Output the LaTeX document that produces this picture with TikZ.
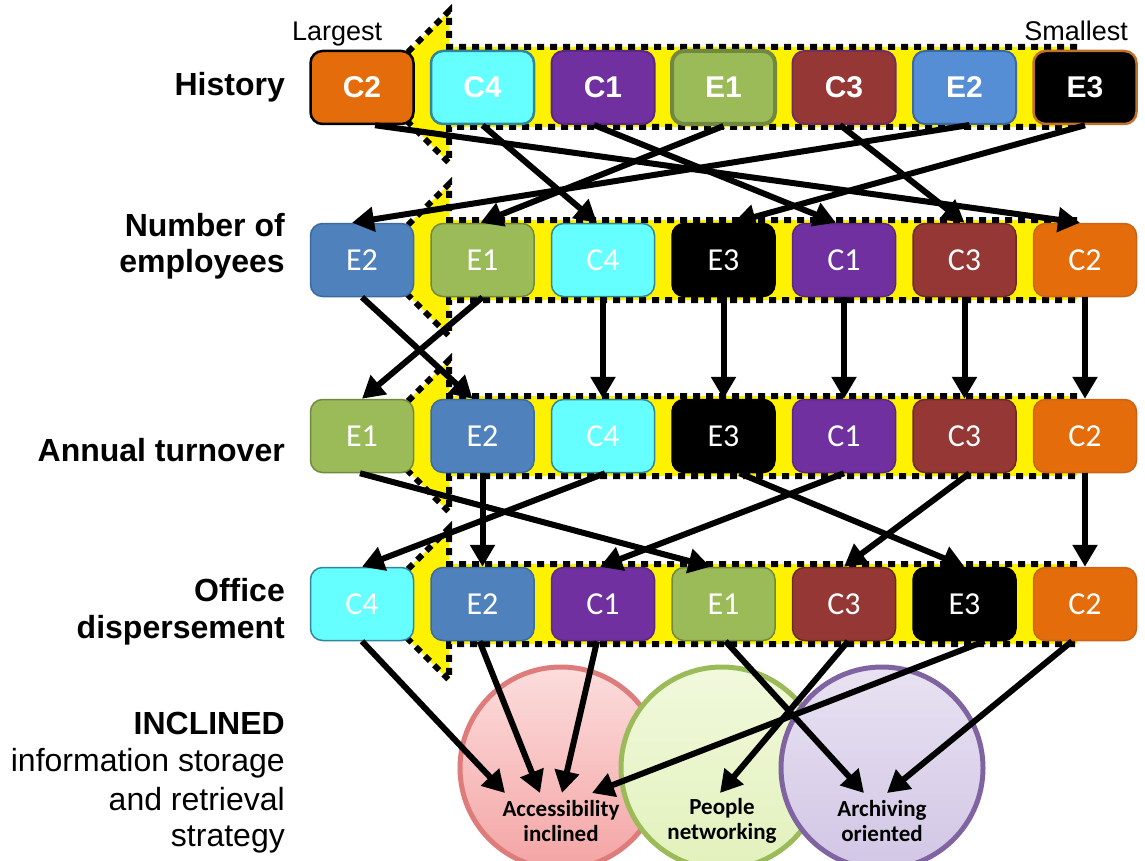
\documentclass[tikz,border=0pt]{standalone}
\usepackage{fontspec}
\setmainfont{Liberation Sans}
\newfontfamily\calib{Carlito}
\usetikzlibrary{arrows.meta}

\definecolor{cOrange}{HTML}{E46C0A}
\definecolor{cCyan}{HTML}{66FFFF}
\definecolor{cPurple}{HTML}{7030A0}
\definecolor{cOlive}{HTML}{9BBB59}
\definecolor{cBrick}{HTML}{953735}
\definecolor{cBlueA}{HTML}{558ED5}
\definecolor{cBlueB}{HTML}{4F81BD}
\definecolor{bOrange}{HTML}{C8651C}
\definecolor{bCyan}{HTML}{31859C}
\definecolor{bPurple}{HTML}{5A2784}
\definecolor{bOlive}{HTML}{71893F}
\definecolor{bBrick}{HTML}{6E2927}
\definecolor{bBlue}{HTML}{3D6A9E}
\definecolor{bE3}{HTML}{C0712E}
\definecolor{redEdge}{HTML}{DE7C7C}
\definecolor{redTop}{HTML}{FCDDDD}
\definecolor{redBot}{HTML}{F4A4A4}
\definecolor{grnTop}{HTML}{F1F9DC}
\definecolor{grnBot}{HTML}{E2F1BC}
\definecolor{vioEdge}{HTML}{8064A2}
\definecolor{vioTop}{HTML}{E8E2F2}
\definecolor{vioBot}{HTML}{D2C6E5}

\begin{document}
\begin{tikzpicture}[x=1pt,y=-1pt,
  band/.style={fill=yellow, draw=black, line width=6pt, dash pattern=on 7pt off 6pt},
  hbox/.style={rounded corners=12pt, minimum width=103pt, minimum height=73pt,
    inner sep=0pt, text=white, line width=2.5pt,
    font=\fontsize{30}{30}\selectfont\bfseries},
  rbox/.style={rounded corners=12pt, minimum width=103pt, minimum height=73pt,
    inner sep=0pt, text=white, line width=1.5pt,
    font=\calib\fontsize{32}{32}\selectfont},
  link/.style={line width=6pt, -{Triangle[length=22pt,width=24pt]}},
  lab/.style={anchor=base east, inner sep=0pt, font=\fontsize{32}{37}\selectfont\bfseries},
  labn/.style={anchor=base east, inner sep=0pt, font=\fontsize{32}{37}\selectfont},
  ring/.style={circle, minimum size=202pt, line width=5pt, inner sep=0pt},
  ctext/.style={align=center, inner sep=0pt, font=\calib\bfseries\fontsize{23}{25}\selectfont}
]
\useasboundingbox (0,0) rectangle (1145,861);

% yellow left-pointing block arrows behind each row
\foreach \yc in {87,260,436,604}{
  \draw[band] (1077,\yc-40) -- (449,\yc-40) -- (449,\yc-76) -- (373,\yc)
    -- (449,\yc+76) -- (449,\yc+40) -- (1077,\yc+40) -- cycle;
}

% strategy circles
\node[ring, draw=redEdge, top color=redTop, bottom color=redBot] (accC) at (561,768) {};
\node[ring, draw=cOlive, top color=grnTop, bottom color=grnBot] (pplC) at (722,768) {};
\node[ring, draw=vioEdge, top color=vioTop, bottom color=vioBot] (arcC) at (882,768) {};

% scale ends
\node[anchor=base west, inner sep=0pt, font=\fontsize{27}{30}\selectfont] (largest) at (292,41) {Largest};
\node[anchor=base east, inner sep=0pt, font=\fontsize{27}{30}\selectfont] (smallest) at (1128,41) {Smallest};

% row labels
\node[lab] (l1) at (285,96) {History};
\node[lab] (l2a) at (285,236) {Number of};
\node[lab] (l2b) at (285,272) {employees};
\node[lab] (l3) at (285,461) {Annual turnover};
\node[lab] (l4a) at (285,601) {Office};
\node[lab] (l4b) at (285,638) {dispersement};
\node[lab] (l5a) at (285,734) {INCLINED};
\node[labn] (l5b) at (285,771) {information storage};
\node[labn] (l5c) at (285,810) {and retrieval};
\node[labn] (l5d) at (285,846) {strategy};

% row 1: history
\node[hbox, fill=cOrange, draw=black] (hC2) at (362,87.5) {C2};
\node[hbox, fill=cCyan, draw=bCyan] (hC4) at (482.5,87.5) {C4};
\node[hbox, fill=cPurple, draw=bPurple, line width=2pt] (hC1) at (603,87.5) {C1};
\node[hbox, fill=cOlive, draw=bOlive, line width=4pt] (hE1) at (723.5,87.5) {E1};
\node[hbox, fill=cBrick, draw=bPurple!60!cBrick, line width=2pt] (hC3) at (844,87.5) {C3};
\node[hbox, fill=cBlueA, draw=bBlue, line width=2pt] (hE2) at (964.5,87.5) {E2};
\node[hbox, fill=black, draw=bE3] (hE3) at (1085,87.5) {E3};

% row 2: number of employees
\node[rbox, fill=cBlueB, draw=bBlue] (nE2) at (362,260) {E2};
\node[rbox, fill=cOlive, draw=bOlive] (nE1) at (482.5,260) {E1};
\node[rbox, fill=cCyan, draw=bCyan] (nC4) at (603,260) {C4};
\node[rbox, fill=black, draw=black] (nE3) at (723.5,260) {E3};
\node[rbox, fill=cPurple, draw=bPurple] (nC1) at (844,260) {C1};
\node[rbox, fill=cBrick, draw=bBrick] (nC3) at (964.5,260) {C3};
\node[rbox, fill=cOrange, draw=bOrange] (nC2) at (1085,260) {C2};

% row 3: annual turnover
\node[rbox, fill=cOlive, draw=bOlive] (aE1) at (362,436) {E1};
\node[rbox, fill=cBlueB, draw=bBlue] (aE2) at (482.5,436) {E2};
\node[rbox, fill=cCyan, draw=bCyan] (aC4) at (603,436) {C4};
\node[rbox, fill=black, draw=black] (aE3) at (723.5,436) {E3};
\node[rbox, fill=cPurple, draw=bPurple] (aC1) at (844,436) {C1};
\node[rbox, fill=cBrick, draw=bBrick] (aC3) at (964.5,436) {C3};
\node[rbox, fill=cOrange, draw=bOrange] (aC2) at (1085,436) {C2};

% row 4: office dispersement
\node[rbox, fill=cCyan, draw=bCyan] (oC4) at (362,604) {C4};
\node[rbox, fill=cBlueB, draw=bBlue] (oE2) at (482.5,604) {E2};
\node[rbox, fill=cPurple, draw=bPurple] (oC1) at (603,604) {C1};
\node[rbox, fill=cOlive, draw=bOlive] (oE1) at (723.5,604) {E1};
\node[rbox, fill=cBrick, draw=bBrick] (oC3) at (844,604) {C3};
\node[rbox, fill=black, draw=black] (oE3) at (964.5,604) {E3};
\node[rbox, fill=cOrange, draw=bOrange] (oC2) at (1085,604) {C2};

% history -> employees
\draw[link] ([xshift=13pt]hC2.south) -- ([xshift=-5pt]nC2.north);
\draw[link] (hC4.south) -- ([xshift=-6pt]nC4.north);
\draw[link] ([xshift=-9pt]hC1.south) -- ([xshift=-8pt]nC1.north);
\draw[link] (hE1.south) -- ([xshift=-2pt]nE1.north);
\draw[link] ([xshift=-4pt]hC3.south) -- (nC3.north);
\draw[link] ([xshift=5pt]hE2.south) -- ([xshift=-10pt]nE2.north);
\draw[link] (hE3.south) -- ([xshift=10pt]nE3.north);

% employees -> turnover
\draw[link] (nE2.south) -- ([xshift=-10pt]aE2.north);
\draw[link] (nE1.south) -- (aE1.north);
\draw[link] (nC4.south) -- (aC4.north);
\draw[link] (nE3.south) -- (aE3.north);
\draw[link] (nC1.south) -- (aC1.north);
\draw[link] (nC3.south) -- (aC3.north);
\draw[link] (nC2.south) -- (aC2.north);

% turnover -> dispersement
\draw[link] ([xshift=-2pt]aE1.south) -- ([xshift=-13pt]oE1.north);
\draw[link] (aE2.south) -- (oE2.north);
\draw[link] ([xshift=2pt]aC4.south) -- (oC4.north);
\draw[link] ([xshift=16pt]aE3.south) -- (oE3.north);
\draw[link] (aC1.south) -- ([xshift=-3pt]oC1.north);
\draw[link] ([xshift=5pt]aC3.south) -- (oC3.north);
\draw[link] (aC2.south) -- (oC2.north);

% dispersement -> strategies
\draw[link] (oC4.south) -- ([xshift=-56pt,yshift=-25pt]accC.center);
\draw[link] ([xshift=-3pt]oE2.south) -- ([xshift=-21pt,yshift=-25pt]accC.center);
\draw[link] ([xshift=-6pt]oC1.south) -- ([xshift=1pt,yshift=-25pt]accC.center);
\draw[link] ([xshift=20pt]oE3.south) -- ([xshift=31pt,yshift=-25pt]accC.center);
\draw[link] ([xshift=4pt]oC3.south) -- ([xshift=-2pt,yshift=-25pt]pplC.center);
\draw[link] ([xshift=2pt]oE1.south) -- ([xshift=-18pt,yshift=-25pt]arcC.center);
\draw[link] ([xshift=-13pt]oC2.south) -- ([xshift=5pt,yshift=-25pt]arcC.center);

% strategy names
\node[ctext] (accT) at (561,821) {Accessibility\\inclined};
\node[ctext] (pplT) at (722,821) {People\\networking};
\node[ctext] (arcT) at (882,821) {Archiving\\oriented};
\end{tikzpicture}
\end{document}
